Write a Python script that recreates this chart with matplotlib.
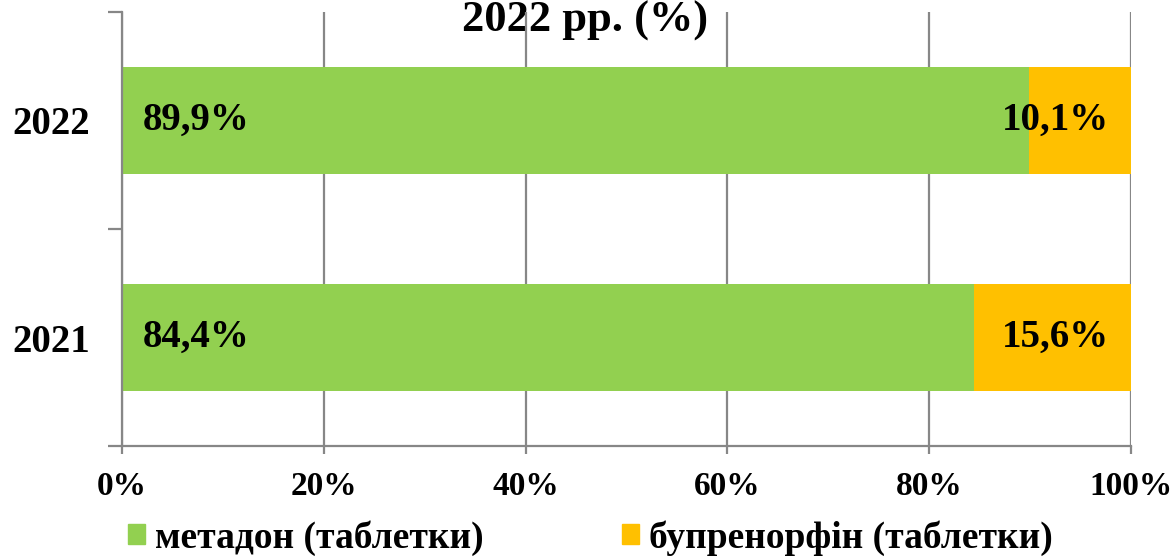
import matplotlib
matplotlib.use("Agg")
import matplotlib.pyplot as plt
from matplotlib.patches import Patch
from matplotlib.ticker import FixedLocator

years = ["2021", "2022"]
methadone = [84.4, 89.9]
bupre = [15.6, 10.1]
series_names = ["метадон (таблетки)", "бупренорфін (таблетки)"]
title = "2022 рр. (%)"
xticks = [0, 20, 40, 60, 80, 100]

GREEN = "#92D050"
YELLOW = "#FFC000"
GRID = "#878787"

plt.rcParams["font.family"] = ["Liberation Serif", "DejaVu Serif"]
plt.rcParams["font.weight"] = "bold"

fig = plt.figure(figsize=(11.74, 5.59), dpi=100)
ax = fig.add_axes([122 / 1174, 1 - 446 / 559, (1131 - 122) / 1174, (446 - 12) / 559])
ax.patch.set_visible(False)

ypos = list(range(len(years)))
ax.barh(ypos, methadone, height=0.49, color=GREEN, zorder=2)
ax.barh(ypos, bupre, left=methadone, height=0.49, color=YELLOW, zorder=2)

for y, m, b in zip(ypos, methadone, bupre):
    ax.annotate(f"{m:.1f}%".replace(".", ","), (0, y), xytext=(15, 0),
                textcoords="offset points", ha="left", va="center",
                fontsize=28, fontweight="bold", zorder=3)
    ax.annotate(f"{b:.1f}%".replace(".", ","), (m + b, y), xytext=(-16, 0),
                textcoords="offset points", ha="right", va="center",
                fontsize=28, fontweight="bold", zorder=3)

ax.set_xlim(0, 100)
ax.set_ylim(-0.5, len(years) - 0.5)
ax.set_xticks(xticks)
ax.set_xticklabels([f"{t}%" for t in xticks], fontsize=24, fontweight="bold")
ax.xaxis.grid(True, color=GRID, linewidth=1.6, zorder=1)
ax.tick_params(axis="x", length=6, width=1.6, color=GRID, pad=12)

ax.set_yticks(ypos)
ax.set_yticklabels(years, fontsize=28, fontweight="bold")
ax.yaxis.set_minor_locator(FixedLocator([-0.5, 0.5, 1.5]))
ax.tick_params(axis="y", which="major", length=0, pad=23)
ax.tick_params(axis="y", which="minor", length=10, width=1.6, color=GRID)

for side in ["top", "right"]:
    ax.spines[side].set_visible(False)
for side in ["left", "bottom"]:
    ax.spines[side].set_color(GRID)
    ax.spines[side].set_linewidth(1.6)

# title sits behind the gridlines, like in the source
fig.text(585 / 1174, 1 - 32 / 559, title, ha="center", va="baseline",
         fontsize=32, fontweight="bold", zorder=-1)

handles = [Patch(color=GREEN), Patch(color=YELLOW)]
fig.legend(handles, series_names, loc="center left", bbox_to_anchor=(128 / 1174, 1 - 538 / 559),
           ncol=2, frameon=False, handlelength=0.45, handleheight=0.45,
           handletextpad=0.27, columnspacing=3.7, borderpad=0, borderaxespad=0,
           prop={"weight": "bold", "size": 27})

fig.savefig("out.png", dpi=100)
